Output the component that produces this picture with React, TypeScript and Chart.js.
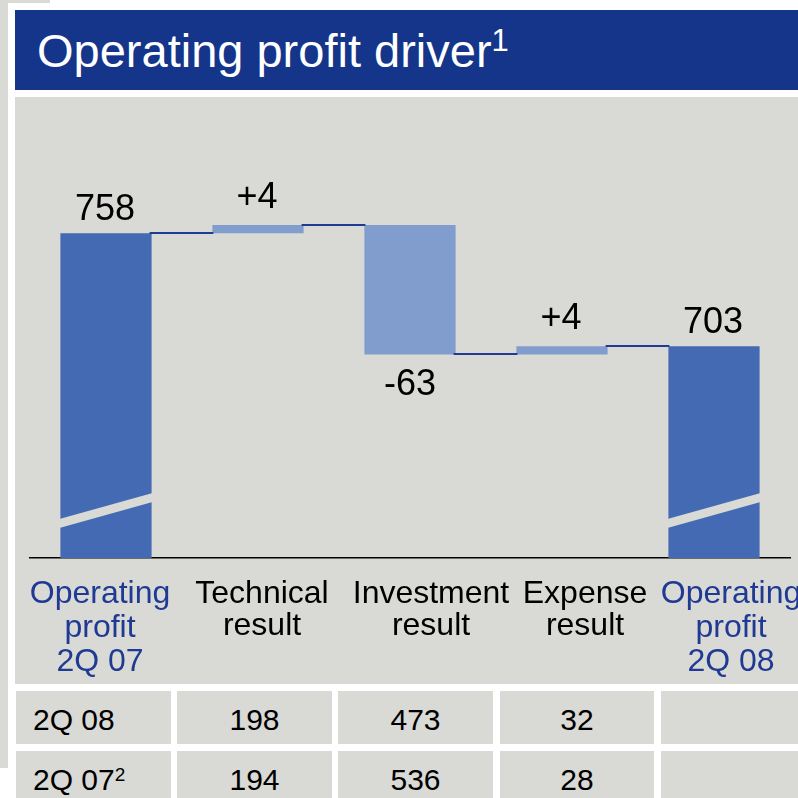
import React, { useEffect, useRef } from "react";
import { Chart, registerables } from "chart.js";

Chart.register(...registerables);

// ---------- data ----------
const categories = [
  ["Operating", "profit", "2Q 07"],
  ["Technical", "result"],
  ["Investment", "result"],
  ["Expense", "result"],
  ["Operating", "profit", "2Q 08"],
];
const isTotal = [true, false, false, false, true];
const startTotal = 758;
const changes = [4, -63, 4];
const endTotal = 703;
const valueLabels = ["758", "+4", "-63", "+4", "703"];
const yAxisMin = 600;
const yAxisMax = 815;

const tableRowLabels = ["2Q 08", "2Q 07"];
const tableRowSup = ["", "2"];
const technicalResult = [198, 194];
const investmentResult = [473, 536];
const expenseResult = [32, 28];

// ---------- styles ----------
const FONT = '"Liberation Sans", Arial, Helvetica, sans-serif';
const PANEL = "#D9D9D5";
const TITLE_BG = "#14358A";
const DARK_BAR = "#436AB3";
const LIGHT_BAR = "#819DCD";
const CONNECTOR = "#1F3C92";
const LABEL_BLUE = "#1F3A93";
const labelShift = [-6, 4, 21, 23, 17];

function buildFloating(): [number, number][] {
  const out: [number, number][] = [[0, startTotal]];
  let level = startTotal;
  for (const c of changes) {
    out.push([level, level + c]);
    level += c;
  }
  out.push([0, endTotal]);
  return out;
}

const decorPlugin = {
  id: "waterfallDecor",
  afterDatasetsDraw(chart: any) {
    const ctx = chart.ctx;
    const meta = chart.getDatasetMeta(0);
    const ys = chart.scales.y;
    const area = chart.chartArea;
    const data = chart.data.datasets[0].data as [number, number][];
    ctx.save();
    // axis break marks on total bars
    meta.data.forEach((el: any, i: number) => {
      if (!isTotal[i]) return;
      const l = el.x - el.width / 2 - 1;
      const r = el.x + el.width / 2 + 1;
      const b = area.bottom;
      ctx.fillStyle = PANEL;
      ctx.beginPath();
      ctx.moveTo(l, b - 30);
      ctx.lineTo(r, b - 56);
      ctx.lineTo(r, b - 65);
      ctx.lineTo(l, b - 39);
      ctx.closePath();
      ctx.fill();
    });
    // connectors
    ctx.strokeStyle = CONNECTOR;
    ctx.lineWidth = 2;
    for (let i = 0; i < meta.data.length - 1; i++) {
      const a = meta.data[i];
      const n = meta.data[i + 1];
      const yy = Math.round(ys.getPixelForValue(data[i][1]));
      ctx.beginPath();
      ctx.moveTo(a.x + a.width / 2 - 2, yy);
      ctx.lineTo(n.x - n.width / 2 + 1, yy);
      ctx.stroke();
    }
    // value labels
    ctx.fillStyle = "#000";
    ctx.font = `36px ${FONT}`;
    ctx.textAlign = "center";
    ctx.textBaseline = "alphabetic";
    meta.data.forEach((el: any, i: number) => {
      const [s, e] = data[i];
      const top = ys.getPixelForValue(Math.max(s, e));
      const bottom = ys.getPixelForValue(Math.min(s, e));
      if (e < s) {
        ctx.fillText(valueLabels[i], el.x, bottom + 41);
      } else {
        ctx.fillText(valueLabels[i], el.x - 1, top - (isTotal[i] ? 13 : 17));
      }
    });
    ctx.restore();
  },
  afterDraw(chart: any) {
    const ctx = chart.ctx;
    const xs = chart.scales.x;
    const area = chart.chartArea;
    ctx.save();
    ctx.font = `32px ${FONT}`;
    ctx.textAlign = "center";
    ctx.textBaseline = "alphabetic";
    categories.forEach((lines, i) => {
      const x = xs.getPixelForValue(i) + labelShift[i];
      ctx.fillStyle = isTotal[i] ? LABEL_BLUE : "#000";
      const lh = isTotal[i] ? 34 : 32;
      lines.forEach((t, j) => {
        ctx.fillText(t, x, area.bottom + 45 + j * lh);
      });
    });
    ctx.restore();
  },
};

function WaterfallChart() {
  const ref = useRef<HTMLCanvasElement | null>(null);
  useEffect(() => {
    if (!ref.current) return;
    const floating = buildFloating();
    const chart = new Chart(ref.current, {
      type: "bar",
      data: {
        labels: categories.map((c) => c.join(" ")),
        datasets: [
          {
            data: floating as any,
            backgroundColor: isTotal.map((t) => (t ? DARK_BAR : LIGHT_BAR)),
            borderWidth: 0,
            barPercentage: 1,
            categoryPercentage: 0.6,
            clip: 0 as any,
          },
        ],
      },
      options: {
        responsive: false,
        animation: false,
        layout: { padding: { left: 15, right: 8, top: 19, bottom: 126 } },
        plugins: {
          legend: { display: false },
          tooltip: { enabled: false },
          title: { display: false },
        },
        scales: {
          x: {
            display: true,
            offset: true,
            grid: { display: false, drawTicks: false },
            ticks: { display: false },
            border: { display: true, color: "#000", width: 1.5 },
          },
          y: {
            display: false,
            min: yAxisMin,
            max: yAxisMax,
          },
        },
      },
      plugins: [decorPlugin],
    });
    return () => chart.destroy();
  }, []);
  return (
    <canvas
      ref={ref}
      width={783}
      height={587}
      style={{ position: "absolute", left: 0, top: 0, width: 783, height: 587 }}
    />
  );
}

const colX = [16, 177, 338, 500, 661];
const colW = [155, 155, 155, 154, 137];
const rowY = [691, 751];
const rowH = [53, 47];

export default function App() {
  const rows = tableRowLabels.map((label, r) => [
    label,
    String(technicalResult[r]),
    String(investmentResult[r]),
    String(expenseResult[r]),
    "",
  ]);
  return (
    <div
      style={{
        position: "absolute",
        left: 0,
        top: 0,
        width: 798,
        height: 798,
        background: "#fff",
        overflow: "hidden",
        fontFamily: FONT,
      }}
    >
      <div style={{ position: "absolute", left: 0, top: 0, width: 8, height: 768, background: PANEL }} />
      <div style={{ position: "absolute", left: 0, top: 0, width: 50, height: 3, background: PANEL }} />
      <div
        style={{
          position: "absolute",
          left: 15,
          top: 10,
          width: 783,
          height: 80,
          background: TITLE_BG,
        }}
      >
        <div
          style={{
            position: "absolute",
            left: 22,
            top: 17,
            fontSize: 47,
            lineHeight: "47px",
            color: "#fff",
            whiteSpace: "nowrap",
          }}
        >
          Operating profit driver
          <span style={{ fontSize: 31, position: "relative", top: -16 }}>1</span>
        </div>
      </div>
      <div
        style={{
          position: "absolute",
          left: 15,
          top: 97,
          width: 783,
          height: 587,
          background: PANEL,
        }}
      >
        <WaterfallChart />
      </div>
      {rows.map((cells, r) =>
        cells.map((txt, c) => (
          <div
            key={`${r}-${c}`}
            style={{
              position: "absolute",
              left: colX[c],
              top: rowY[r],
              width: colW[c],
              height: rowH[r],
              background: PANEL,
            }}
          >
            <div
              style={{
                position: "absolute",
                top: 14,
                left: c === 0 ? 17 : 0,
                width: c === 0 ? undefined : colW[c],
                textAlign: c === 0 ? "left" : "center",
                fontSize: 30,
                lineHeight: "30px",
                color: "#000",
                whiteSpace: "nowrap",
              }}
            >
              {txt}
              {c === 0 && tableRowSup[r] ? (
                <span style={{ fontSize: 19, position: "relative", top: -9 }}>{tableRowSup[r]}</span>
              ) : null}
            </div>
          </div>
        ))
      )}
    </div>
  );
}
